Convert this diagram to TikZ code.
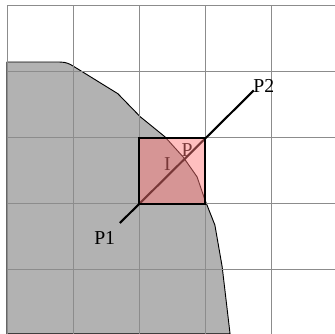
\documentclass[tikz,border=0pt]{standalone}
\usepackage{fontspec}
\setmainfont{Liberation Serif}
\usetikzlibrary{positioning}
\definecolor{cellred}{RGB}{255,118,118}
\begin{document}
\begin{tikzpicture}[
  gridline/.style={gray!90,line width=0.4pt},
  region/.style={fill=gray!60,draw=black,line width=0.4pt},
  edge/.style={black!60,line width=1.2pt},
  cellbox/.style={rectangle,draw=black,line width=1.1pt,fill=cellred,fill opacity=0.47,
        draw opacity=1,minimum size=1cm,inner sep=0pt},
  ray/.style={black,line width=0.9pt},
  lbl/.style={font=\fontsize{8.5}{10}\selectfont,inner sep=1pt}
]
\useasboundingbox (-0.106,-0.97) rectangle (4.97,4.09);
% shaded region
\draw[region] (0,-0.97) -- (0,3.15) -- (0.8,3.15)
  .. controls (0.9,3.15) and (0.95,3.12) .. (1.0,3.09)
  -- (1.68,2.67) -- (2.02,2.32) -- (2.39,2.02) -- (2.67,1.71)
  -- (2.88,1.41) -- (3.0,1.06) -- (3.15,0.68) -- (3.26,0.05)
  -- (3.38,-0.97) -- cycle;
\draw[edge] (0,-0.97) -- (0,3.15);
% grid
\foreach \x in {0,...,4}
  \draw[gridline] (\x,-0.97) -- (\x,4);
\foreach \y in {0,...,4}
  \draw[gridline] (0,\y) -- (4.97,\y);
% ray and labels
\coordinate (p1) at (1.71,0.71);
\coordinate (p2) at (3.74,2.72);
\draw[ray] (p1) -- (p2);
\node[lbl] (p1lbl) at (1.48,0.48) {P1};
\node[lbl] (p2lbl) at (3.89,2.79) {P2};
\node[lbl] (plbl) at (2.73,1.82) {P};
\node[lbl] (ilbl) at (2.43,1.61) {I};
% cell
\node[cellbox] (cell) at (2.5,1.5) {};
\end{tikzpicture}
\end{document}
